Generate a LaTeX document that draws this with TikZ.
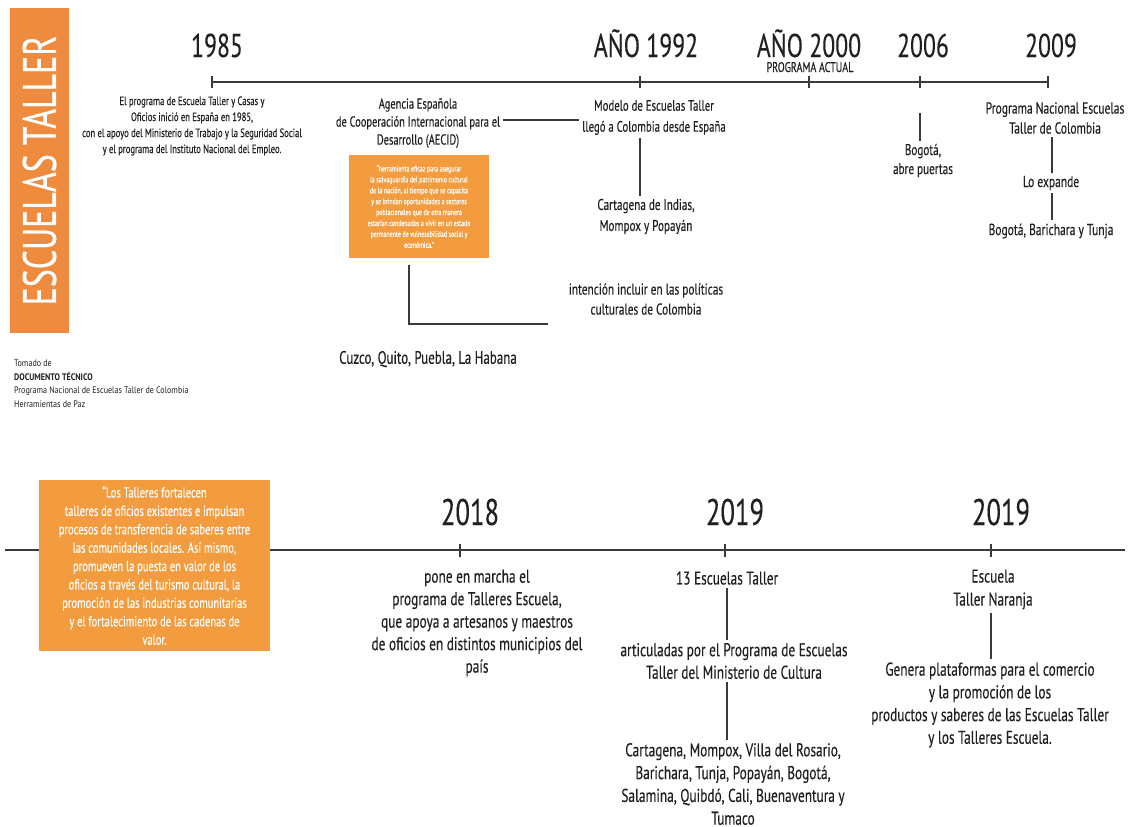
\documentclass[tikz,border=0pt]{standalone}
\usepackage{fontspec}
\setmainfont{PT Sans}[FakeStretch=0.72,FakeBold=0.25]
\newfontfamily\srcfont{PT Sans}[FakeStretch=0.85]
\definecolor{ink}{HTML}{231F20}
\definecolor{rule}{HTML}{3A3A3A}
\definecolor{barorange}{HTML}{EE8B3F}
\definecolor{boxorange}{HTML}{F29C3F}
\newcommand{\setfs}[2]{\fontsize{#1}{#2}\selectfont}
\begin{document}
\begin{tikzpicture}[x=1pt,y=-1pt,
  tl/.style={draw=rule,line width=1.4pt},
  ln/.style={draw=rule,line width=1.4pt},
  yr/.style={anchor=base,inner sep=0pt,text=ink,font=\setfs{33}{33}},
  lbl/.style={align=center,inner sep=3pt,text=ink},
  obox/.style={fill=boxorange,text=white,align=center,inner sep=0pt}]
\useasboundingbox (0,0) rectangle (1130,827);
\clip (0,0) rectangle (1130,827);
\fill[white] (0,0) rectangle (1130,827);

% title bar
\node[fill=barorange,text=white,rotate=90,minimum width=325pt,minimum height=59pt,
      inner sep=0pt,font=\setfs{47}{47}] (title) at (39.5,170.5) {ESCUELAS TALLER};

% ---------------- upper timeline ----------------
\coordinate (t85) at (212,82);
\coordinate (t92) at (640,82);
\coordinate (t00) at (809,82);
\coordinate (t06) at (920,82);
\coordinate (t09) at (1048,82);
\coordinate (c09) at (1052,82);
\draw[tl] (t85) -- (t09);
\foreach \c in {t85,t92,t00,t06,t09}
  \draw[tl] ([yshift=6pt]\c) -- ([yshift=-6pt]\c);

\node[yr] (y85) at (217,57) {1985};
\node[yr] (y92) at (646,57) {AÑO 1992};
\node[yr] (y00) at (809,57) {AÑO 2000};
\node[anchor=base,inner sep=0pt,text=ink,font=\setfs{14}{14}] (pa) at (810,72) {PROGRAMA ACTUAL};
\node[yr] (y06) at (923,57) {2006};
\node[yr] (y09) at (1051,57) {2009};

\node[lbl,font=\setfs{12}{16}] (spain) at (192,126)
  {El programa de Escuela Taller y Casas y\\
   Oficios inició en España en 1985,\\
   con el apoyo del Ministerio de Trabajo y la Seguridad Social\\
   y el programa del Instituto Nacional del Empleo.};

\node[lbl,font=\setfs{14.5}{18}] (aecid) at (418,123)
  {Agencia Española\\
   de Cooperación Internacional para el\\
   Desarrollo (AECID)};

\node[obox,minimum width=140pt,minimum height=103pt,font=\setfs{8.2}{10.9}] (quote) at (419,206.5)
  {“herramienta eficaz para asegurar\\
   la salvaguardia del patrimonio cultural\\
   de la nación, al tiempo que se capacita\\
   y se brindan oportunidades a sectores\\
   poblacionales que de otra manera\\
   estarían condenados a vivir en un estado\\
   permanente de vulnesabilidad social y\\
   económica.”};

\node[lbl,font=\setfs{15}{21}] (modelo) at (654,117.5)
  {Modelo de Escuelas Taller\\ llegó a Colombia desde España};
\node[lbl,font=\setfs{15.5}{21}] (cart) at (646,216.5)
  {Cartagena de Indias,\\ Mompox y Popayán};
\node[lbl,font=\setfs{15.7}{20}] (intencion) at (646,299)
  {intención incluir en las políticas\\ culturales de Colombia};
\node[lbl,font=\setfs{18}{20}] (cuzco) at (428,359) {Cuzco, Quito, Puebla, La Habana};

\node[lbl,font=\setfs{15.5}{19}] (bog) at (923,160.5) {Bogotá,\\ abre puertas};

\node[lbl,font=\setfs{16}{20}] (pn) at (1055,118) {Programa Nacional Escuelas\\ Taller de Colombia};
\node[lbl,font=\setfs{16}{20}] (loexp) at (1051,183) {Lo expande};
\node[lbl,font=\setfs{16}{20}] (bbt) at (1051,231) {Bogotá, Barichara y Tunja};

% upper connectors
\draw[ln] ([yshift=3pt]aecid.east) -- ([yshift=3pt]aecid.east -| modelo.west);
\draw[ln] (modelo.south -| t92) -- (cart.north -| t92);
\coordinate (elb) at (548,324);
\draw[ln] ([xshift=-10pt,yshift=-7pt]quote.south) |- (elb);
\draw[ln] ([yshift=-31pt]t06) -- (bog.north -| t06);
\draw[ln] (pn.south -| c09) -- (loexp.north -| c09);
\draw[ln] (loexp.south -| c09) -- (bbt.north -| c09);

% source note
\node[anchor=north west,align=left,inner sep=0pt,text=ink,font=\srcfont\setfs{9.5}{13.5}] (src) at (14,360)
  {Tomado de\\
   \textbf{DOCUMENTO TÉCNICO}\\
   Programa Nacional de Escuelas Taller de Colombia\\
   Herramientas de Paz};

% ---------------- lower timeline ----------------
\coordinate (b0) at (5,550);
\coordinate (b1) at (1125,550);
\coordinate (t18) at (460,550);
\coordinate (t19) at (725,550);
\coordinate (t19b) at (991,550);
\coordinate (c19) at (727,550);
\draw[tl] (b0) -- (b1);
\foreach \c in {t18,t19,t19b}
  \draw[tl] ([yshift=6pt]\c) -- ([yshift=-7pt]\c);

\node[obox,minimum width=231pt,minimum height=171pt,font=\setfs{14.6}{18.4}] (quote2) at (154.5,565.5)
  {“Los Talleres fortalecen\\
   talleres de oficios existentes e impulsan\\
   procesos de transferencia de saberes entre\\
   las comunidades locales. Así mismo,\\
   promueven la puesta en valor de los\\
   oficios a través del turismo cultural, la\\
   promoción de las industrias comunitarias\\
   y el fortalecimiento de las cadenas de\\
   valor.};

\node[yr,font=\setfs{37}{37}] (y18) at (470,525) {2018};
\node[yr,font=\setfs{37}{37}] (y19) at (735,525) {2019};
\node[yr,font=\setfs{37}{37}] (y19b) at (1001,525) {2019};

\node[lbl,font=\setfs{18.5}{22.5}] (pone) at (477,623)
  {pone en marcha el\\
   programa de Talleres Escuela,\\
   que apoya a artesanos y maestros\\
   de oficios en distintos municipios del\\
   país};

\node[lbl,font=\setfs{18.5}{22.5}] (trece) at (727,578) {13 Escuelas Taller};
\node[lbl,font=\setfs{18.5}{22.5}] (artic) at (734,661)
  {articuladas por el Programa de Escuelas\\ Taller del Ministerio de Cultura};
\node[lbl,font=\setfs{18.5}{22.8}] (cities) at (733,784)
  {Cartagena, Mompox, Villa del Rosario,\\
   Barichara, Tunja, Popayán, Bogotá,\\
   Salamina, Quibdó, Cali, Buenaventura y\\
   Tumaco};

\node[lbl,font=\setfs{18.5}{23}] (naranja) at (993,589.5) {Escuela\\ Taller Naranja};
\node[lbl,font=\setfs{18.5}{22.7}] (genera) at (990,705)
  {Genera plataformas para el comercio\\
   y la promoción de los\\
   productos y saberes de las Escuelas Taller\\
   y los Talleres Escuela.};

% lower connectors
\draw[ln] (trece.south -| c19) -- (artic.north -| c19);
\draw[ln] (artic.south -| c19) -- (cities.north -| c19);
\draw[ln] (naranja.south -| t19b) -- (genera.north -| t19b);
\end{tikzpicture}
\end{document}
